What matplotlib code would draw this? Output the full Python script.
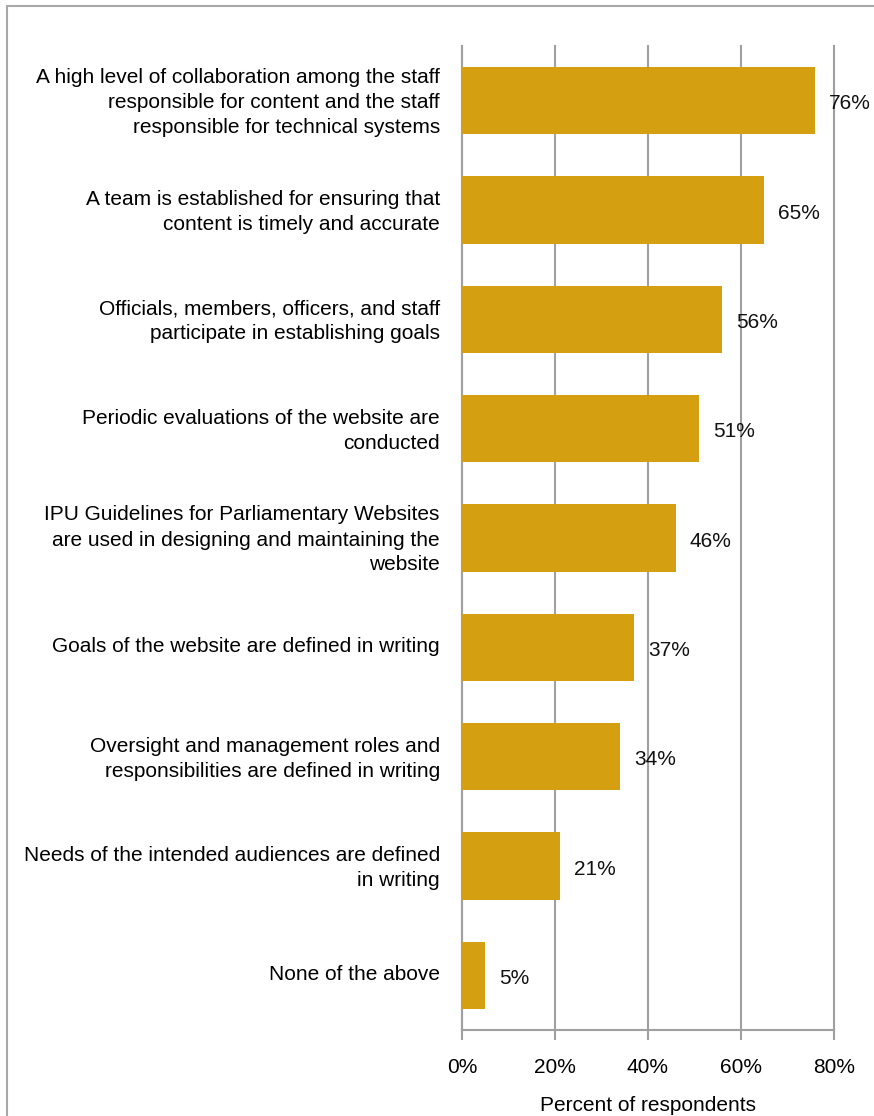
"""Horizontal bar chart: website management practices."""
import matplotlib
matplotlib.use('Agg')
import matplotlib.pyplot as plt
from matplotlib.patches import Rectangle
from matplotlib.transforms import ScaledTranslation

plt.rcParams.update({
    'font.family': ['Liberation Sans', 'DejaVu Sans'],
    'font.size': 15,
})

categories = [
    'A high level of collaboration among the staff\nresponsible for content and the staff\nresponsible for technical systems',
    'A team is established for ensuring that\ncontent is timely and accurate',
    'Officials, members, officers, and staff\nparticipate in establishing goals',
    'Periodic evaluations of the website are\nconducted',
    'IPU Guidelines for Parliamentary Websites\nare used in designing and maintaining the\nwebsite',
    'Goals of the website are defined in writing',
    'Oversight and management roles and\nresponsibilities are defined in writing',
    'Needs of the intended audiences are defined\nin writing',
    'None of the above',
]
values = [76, 65, 56, 51, 46, 37, 34, 21, 5]
xticks = [0, 20, 40, 60, 80]

BAR = '#D4A012'
GRID = '#A0A0A0'

fig = plt.figure(figsize=(8.74, 11.16), dpi=100)
ax = fig.add_axes([462 / 874, 1 - 1030 / 1116, 372 / 874, 984 / 1116])

# thin frame around the chart area (runs off the right/bottom edges)
fig.patches.append(Rectangle((7 / 874, -0.05), 1.2, 1 - 6 / 1116 + 0.05,
                             transform=fig.transFigure, fill=False,
                             edgecolor='#A8A8A8', linewidth=1.5))

y = list(range(len(values)))
ax.barh(y, values, height=0.615, color=BAR, zorder=3)
for yi, v in zip(y, values):
    ax.text(v + 3.0, yi + 0.03, f'{v}%', va='center', ha='left',
            fontsize=15, color='#111111', zorder=4)

ax.set_ylim(len(values) - 0.5, -0.5)
ax.set_xlim(0, 80)
ax.set_yticks(y)
ax.set_yticklabels(categories, ha='right', fontsize=15, linespacing=1.4)
ax.tick_params(axis='y', length=0, pad=16)
# nudge category labels up a little
lift = ScaledTranslation(0, 3 / 100, fig.dpi_scale_trans)
for lbl in ax.get_yticklabels():
    lbl.set_transform(lbl.get_transform() + lift)
ax.set_xticks(xticks)
ax.set_xticklabels([f'{t}%' for t in xticks], fontsize=15)
ax.tick_params(axis='x', length=7, width=1.5, color=GRID, pad=13)
ax.xaxis.grid(True, color=GRID, linewidth=1.5, zorder=0)
for gl in ax.get_xgridlines():
    gl.set_clip_on(False)
ax.set_axisbelow(True)
for s in ['top', 'right']:
    ax.spines[s].set_visible(False)
for s in ['left', 'bottom']:
    ax.spines[s].set_color(GRID)
    ax.spines[s].set_linewidth(1.5)
ax.set_xlabel('Percent of respondents', fontsize=15, labelpad=14)

fig.savefig('out.png', dpi=100, facecolor='white')
